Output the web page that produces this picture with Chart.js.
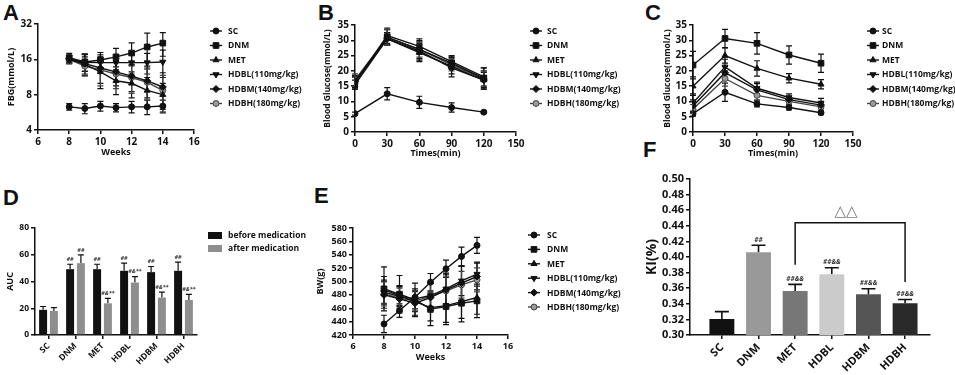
<!DOCTYPE html>
<html>
<head>
<meta charset="utf-8">
<script src="https://cdn.jsdelivr.net/npm/chart.js@4.4.1/dist/chart.umd.min.js"></script>
<style>
  body { margin: 0; background: #fff; width: 955px; height: 375px; position: relative; overflow: hidden; }
  canvas { position: absolute; }
  .tag { position: absolute; font: bold 22px/1 "Liberation Sans", Arial, sans-serif; color: #111; }
</style>
</head>
<body>
<div class="tag" style="left:3px;top:2px">A</div>
<div class="tag" style="left:318px;top:2px">B</div>
<div class="tag" style="left:645px;top:2px">C</div>
<div class="tag" style="left:3px;top:187px">D</div>
<div class="tag" style="left:314px;top:185px">E</div>
<div class="tag" style="left:643px;top:139px">F</div>

<canvas id="cA" width="320" height="175" style="left:0;top:0"></canvas>
<canvas id="cB" width="320" height="175" style="left:320px;top:0"></canvas>
<canvas id="cC" width="315" height="175" style="left:640px;top:0"></canvas>
<canvas id="cD" width="320" height="200" style="left:0;top:175px"></canvas>
<canvas id="cE" width="328" height="200" style="left:312px;top:175px"></canvas>
<canvas id="cF" width="315" height="230" style="left:640px;top:145px"></canvas>

<script>
const groups = ['SC', 'DNM', 'MET', 'HDBL(110mg/kg)', 'HDBM(140mg/kg)', 'HDBH(180mg/kg)'];
const barGroups = ['SC', 'DNM', 'MET', 'HDBL', 'HDBM', 'HDBH'];

// A: fasting blood glucose by week
const weeks = [8, 9, 10, 11, 12, 13, 14];
const fbgTicks = [4, 8, 16, 32];
const fbgMeans = [
  [6.3, 6.1, 6.4, 6.2, 6.3, 6.3, 6.4],
  [16.5, 15.2, 15.8, 16.8, 18.1, 20.4, 22],
  [16, 14.5, 12.5, 10.5, 10, 8.7, 8],
  [15.8, 15.1, 15, 15, 15, 15, 15.2],
  [16.2, 14.7, 13.5, 12.5, 11.5, 10.5, 9.3],
  [16, 14, 13, 12, 11.2, 10.2, 8.7]
];
const fbgErrors = [
  [0.4, 0.6, 0.6, 0.5, 0.7, 0.9, 0.8],
  [1.5, 2.5, 2.5, 3, 4, 6.4, 5],
  [1.2, 2.5, 3.5, 2.5, 2.5, 2.5, 2],
  [1.2, 2.5, 2.5, 2.5, 3, 3, 4],
  [1.2, 3, 3.5, 3, 3, 3, 3],
  [1.2, 2.5, 3.5, 3, 3, 3, 3]
];

// B and C: glucose tolerance, before and after medication
const minutes = [0, 30, 60, 90, 120];
const ogttBefore = [
  [6, 12.5, 9.7, 8, 6.5],
  [16.5, 31, 27, 22.5, 17.5],
  [15.5, 30.5, 26, 21.5, 17],
  [16, 31.5, 28, 23, 18],
  [16.5, 30.5, 26.5, 21, 17],
  [17, 31, 27, 22, 17.5]
];
const ogttBeforeErr = [
  [0.5, 2, 2, 1.5, 0.4],
  [2, 2.5, 3, 2, 3.5],
  [1.5, 2, 3, 3.5, 2.5],
  [2, 2.5, 2.5, 1.5, 3],
  [1.5, 2, 3, 2, 3],
  [2, 2.5, 2.5, 2, 2.5]
];
const ogttAfter = [
  [6, 13, 9.2, 8, 6.3],
  [21.9, 30.6, 29, 25.2, 22.5],
  [15, 25, 20.8, 17.6, 15.6],
  [9.5, 21.3, 14.3, 11.3, 9.5],
  [8.5, 19.4, 13.8, 10.6, 8.8],
  [7.5, 17.5, 12, 10, 8.2]
];
const ogttAfterErr = [
  [0.8, 3, 1, 0.8, 0.6],
  [4.5, 3, 3.5, 3, 3],
  [3, 2.5, 2.5, 1.5, 1.5],
  [3, 2.5, 2, 1.2, 1.5],
  [2, 2, 2, 1, 1],
  [1.5, 2.5, 1.5, 1, 1]
];

// D: AUC
const aucBefore = [18.8, 49.2, 49.2, 48, 47, 48];
const aucBeforeErr = [2.5, 3.7, 3.7, 5.7, 4.2, 6.5];
const aucAfter = [18, 53.7, 23.7, 39.2, 28, 26.2];
const aucAfterErr = [2.5, 6.2, 3.7, 4.5, 4, 4.2];
const aucBeforeMarks = ['', '##', '##', '##', '##', '##'];
const aucAfterMarks = ['', '##', '#&**', '#&**', '#&**', '#&**'];

// E: body weight
const bwMeans = [
  [436.5, 456.5, 476.5, 499, 519, 537.5, 554],
  [489, 481, 472.5, 459, 462.5, 467.5, 471],
  [487.5, 479, 470, 461, 464, 470, 476],
  [484, 477.5, 474, 479, 489, 501, 511],
  [480, 474, 467.5, 476, 487.5, 497.5, 507.5],
  [481.5, 475, 471, 477.5, 486, 495, 502.5]
];
const bwErrors = [
  [13, 10, 10, 13, 13, 14, 12],
  [33, 28, 25, 25, 27, 28, 25],
  [20, 15, 15, 20, 25, 25, 25],
  [18, 15, 15, 18, 22, 22, 18],
  [20, 18, 18, 22, 25, 25, 20],
  [18, 15, 15, 20, 22, 20, 18]
];

// F: KI
const kiValues = [0.3205, 0.406, 0.3564, 0.3778, 0.3522, 0.3406];
const kiErrors = [0.0095, 0.009, 0.0085, 0.0085, 0.007, 0.005];
const kiMarks = ['', '##', '##&&', '##&&', '##&&', '##&&'];
const kiTicks = [0.30, 0.32, 0.34, 0.36, 0.38, 0.40, 0.42, 0.44, 0.46, 0.48, 0.50];

const INK = '#111';
const FONT = '"Open Sans", "DejaVu Sans", sans-serif';
Chart.defaults.font.family = FONT;
Chart.defaults.font.weight = 'bold';
Chart.defaults.color = INK;
Chart.defaults.animation = false;
Chart.defaults.plugins.legend.display = false;
Chart.defaults.plugins.tooltip.enabled = false;

const markers = [
  { style: 'circle', r: 3, fill: INK, line: INK },
  { style: 'rect', r: 4, fill: INK, line: INK },
  { style: 'triangle', r: 3.5, fill: INK, line: INK },
  { style: 'triangle', r: 3.5, rot: 180, fill: INK, line: INK },
  { style: 'rectRot', r: 3.5, fill: INK, line: INK },
  { style: 'circle', r: 3, fill: '#9a9a9a', line: '#444' }
];

function lineSets(xs, means, errs) {
  return means.map((m, i) => ({
    label: groups[i],
    data: m.map((v, j) => ({ x: xs[j], y: v })),
    errors: errs[i],
    borderColor: markers[i].line,
    borderWidth: 1.4,
    pointStyle: markers[i].style,
    pointRotation: markers[i].rot || 0,
    pointRadius: markers[i].r,
    pointBackgroundColor: markers[i].fill,
    pointBorderColor: markers[i].line,
    pointBorderWidth: 1
  }));
}

function axis(o) {
  return {
    type: o.type || 'linear',
    min: o.min,
    max: o.max,
    offset: !!o.offset,
    border: { color: INK, width: 1.5 },
    grid: { drawOnChartArea: false, color: INK, lineWidth: 1.5, tickLength: 4, offset: false },
    ticks: {
      color: INK, font: { size: o.size, weight: 'bold' }, padding: 2,
      stepSize: o.step, autoSkip: false,
      maxRotation: o.rot || 0, minRotation: o.rot || 0,
      callback: o.label
    },
    title: o.title
      ? { display: true, text: o.title, color: INK, font: { size: o.titleSize || 9, weight: 'bold' },
          padding: { top: o.titlePad == null ? 4 : o.titlePad, bottom: o.titlePad == null ? 4 : o.titlePad } }
      : { display: false },
    afterBuildTicks: o.tickValues ? (s => { s.ticks = o.tickValues.map(v => ({ value: v })); }) : undefined,
    afterFit: s => { if (o.w) s.width = o.w; if (o.h) s.height = o.h; }
  };
}

// legend drawn at the side, one row per dataset
const sideLegend = {
  id: 'sideLegend',
  afterDraw(chart, args, o) {
    if (o.x == null) return;
    const ctx = chart.ctx;
    ctx.save();
    ctx.font = 'bold ' + o.size + 'px ' + FONT;
    ctx.textBaseline = 'middle';
    chart.data.datasets.forEach((ds, i) => {
      const y = o.y + i * o.dy;
      if (o.box) {
        ctx.fillStyle = ds.backgroundColor;
        ctx.fillRect(o.x, y - 3.5, 14, 7);
      } else {
        ctx.strokeStyle = ds.borderColor;
        ctx.lineWidth = 1.4;
        ctx.beginPath(); ctx.moveTo(o.x, y); ctx.lineTo(o.x + 12, y); ctx.stroke();
        ctx.fillStyle = ds.pointBackgroundColor;
        ctx.strokeStyle = ds.pointBorderColor;
        ctx.lineWidth = 1;
        Chart.helpers.drawPoint(ctx, { pointStyle: ds.pointStyle, radius: ds.pointRadius, rotation: ds.pointRotation, borderWidth: 1 }, o.x + 6, y);
      }
      ctx.fillStyle = INK;
      ctx.fillText(ds.label, o.x + o.gap, y + 0.5);
    });
    ctx.restore();
  }
};

// mean +/- error whiskers (bars: upper whisker only) and significance marks
const errorBars = {
  id: 'errorBars',
  beforeDatasetsDraw(chart, args, o) {
    const ctx = chart.ctx, ys = chart.scales.y;
    const isBar = chart.config.type === 'bar';
    ctx.save();
    chart.data.datasets.forEach((ds, di) => {
      if (!ds.errors) return;
      chart.getDatasetMeta(di).data.forEach((el, i) => {
        const raw = ds.data[i];
        const v = typeof raw === 'object' ? raw.y : raw;
        const e = ds.errors[i];
        const top = ys.getPixelForValue(v + e);
        const bot = isBar ? el.y : ys.getPixelForValue(v - e);
        ctx.strokeStyle = isBar ? INK : ds.borderColor;
        ctx.lineWidth = o.width || 1.2;
        ctx.beginPath();
        ctx.moveTo(el.x, top); ctx.lineTo(el.x, bot);
        ctx.moveTo(el.x - o.cap, top); ctx.lineTo(el.x + o.cap, top);
        if (!isBar) { ctx.moveTo(el.x - o.cap, bot); ctx.lineTo(el.x + o.cap, bot); }
        ctx.stroke();
        if (ds.marks && ds.marks[i]) {
          ctx.fillStyle = '#333';
          ctx.font = 'italic bold ' + o.markSize + 'px ' + FONT;
          ctx.textAlign = 'center';
          ctx.textBaseline = 'bottom';
          ctx.fillText(ds.marks[i], el.x, top - 2);
        }
      });
    });
    ctx.restore();
  }
};

// comparison bracket between two bars
const bracket = {
  id: 'bracket',
  afterDatasetsDraw(chart, args, o) {
    if (o.from == null) return;
    const ctx = chart.ctx, xs = chart.scales.x, ys = chart.scales.y;
    const x1 = xs.getPixelForValue(o.from), x2 = xs.getPixelForValue(o.to);
    const yt = ys.getPixelForValue(o.level);
    ctx.save();
    ctx.strokeStyle = INK;
    ctx.lineWidth = 1.5;
    ctx.beginPath();
    ctx.moveTo(x1, ys.getPixelForValue(o.leftEnd));
    ctx.lineTo(x1, yt); ctx.lineTo(x2, yt);
    ctx.lineTo(x2, ys.getPixelForValue(o.rightEnd));
    ctx.stroke();
    ctx.fillStyle = '#777';
    ctx.font = '15px "DejaVu Sans", sans-serif';
    ctx.textAlign = 'center';
    ctx.textBaseline = 'bottom';
    ctx.fillText(o.text, (x1 + x2) / 2 - 4, yt - 3);
    ctx.restore();
  }
};

Chart.register(sideLegend, errorBars, bracket);

// A
new Chart(document.getElementById('cA'), {
  type: 'line',
  data: { datasets: lineSets(weeks, fbgMeans, fbgErrors) },
  options: {
    responsive: false,
    layout: { padding: { left: 0, top: 24, right: 126, bottom: 13 } },
    scales: {
      x: axis({ min: 6, max: 16, step: 2, size: 10, h: 32, title: 'Weeks' }),
      y: axis({ type: 'logarithmic', min: 4, max: 32, tickValues: fbgTicks, label: v => String(v), size: 10, w: 38,
                title: 'FBG(mmol/L)', titlePad: 6 })
    },
    plugins: { sideLegend: { x: 210, y: 31, dy: 14.5, gap: 18, size: 8.5 }, errorBars: { cap: 3 } }
  }
});

// B
new Chart(document.getElementById('cB'), {
  type: 'line',
  data: { datasets: lineSets(minutes, ogttBefore, ogttBeforeErr) },
  options: {
    responsive: false,
    layout: { padding: { left: 0, top: 25, right: 124, bottom: 12 } },
    scales: {
      x: axis({ min: 0, max: 150, step: 30, size: 10, h: 31, title: 'Times(min)' }),
      y: axis({ min: 0, max: 35, step: 5, size: 10, w: 35, title: 'Blood Glucose(mmol/L)', titleSize: 8.5, titlePad: 2 })
    },
    plugins: { sideLegend: { x: 210, y: 31, dy: 14.5, gap: 17, size: 8.5 }, errorBars: { cap: 3 } }
  }
});

// C
new Chart(document.getElementById('cC'), {
  type: 'line',
  data: { datasets: lineSets(minutes, ogttAfter, ogttAfterErr) },
  options: {
    responsive: false,
    layout: { padding: { left: 0, top: 25, right: 102, bottom: 12 } },
    scales: {
      x: axis({ min: 0, max: 150, step: 30, size: 10, h: 31, title: 'Times(min)' }),
      y: axis({ min: 0, max: 35, step: 5, size: 10, w: 53, title: 'Blood Glucose(mmol/L)', titleSize: 8.5, titlePad: 22 })
    },
    plugins: { sideLegend: { x: 227, y: 31, dy: 14.5, gap: 15, size: 8.5 }, errorBars: { cap: 3 } }
  }
});

// D
new Chart(document.getElementById('cD'), {
  type: 'bar',
  data: {
    labels: barGroups,
    datasets: [
      { label: 'before medication', data: aucBefore, errors: aucBeforeErr, marks: aucBeforeMarks, backgroundColor: '#111' },
      { label: 'after medication', data: aucAfter, errors: aucAfterErr, marks: aucAfterMarks, backgroundColor: '#8e8e8e' }
    ]
  },
  options: {
    responsive: false,
    categoryPercentage: 0.8,
    barPercentage: 0.74,
    layout: { padding: { left: 0, top: 53, right: 123, bottom: 0 } },
    scales: {
      x: axis({ type: 'category', offset: true, label: v => barGroups[v], size: 8.5, h: 40, rot: 45 }),
      y: axis({ min: 0, max: 80, step: 20, size: 8.5, w: 35, title: 'AUC', titlePad: 5 })
    },
    plugins: { sideLegend: { box: true, x: 208, y: 60.5, dy: 13, gap: 20, size: 8.5 }, errorBars: { cap: 3, markSize: 5.5 } }
  }
});

// E
new Chart(document.getElementById('cE'), {
  type: 'line',
  data: { datasets: lineSets(weeks, bwMeans, bwErrors) },
  options: {
    responsive: false,
    layout: { padding: { left: 0, top: 53, right: 132, bottom: 8 } },
    scales: {
      x: axis({ min: 6, max: 16, step: 2, size: 9, h: 32, title: 'Weeks' }),
      y: axis({ min: 420, max: 580, step: 20, size: 9, w: 41, title: 'BW(g)', titlePad: 3 })
    },
    plugins: { sideLegend: { x: 216, y: 60, dy: 14.4, gap: 19, size: 8.5 }, errorBars: { cap: 3 } }
  }
});

// F
new Chart(document.getElementById('cF'), {
  type: 'bar',
  data: {
    datasets: [{
      label: 'KI',
      data: kiValues.map((v, i) => ({ x: i, y: v })),
      errors: kiErrors,
      marks: kiMarks,
      backgroundColor: ['#111', '#999', '#777', '#cbcbcb', '#555', '#2a2a2a']
    }]
  },
  options: {
    responsive: false,
    categoryPercentage: 1,
    barPercentage: 0.68,
    layout: { padding: { left: 0, top: 34, right: 25, bottom: 0 } },
    scales: {
      x: axis({ min: -0.87, max: 5.68, tickValues: barGroups.map((g, i) => i), label: v => barGroups[v], size: 11, h: 40, rot: 45 }),
      y: axis({ min: 0.30, max: 0.50, tickValues: kiTicks, label: v => v.toFixed(2), size: 11, w: 50, title: 'KI(%)', titleSize: 14, titlePad: 4 })
    },
    plugins: {
      errorBars: { cap: 7, width: 1.6, markSize: 6.5 },
      bracket: { from: 2, to: 5, level: 0.444, leftEnd: 0.39, rightEnd: 0.368, text: '\u25B3\u25B3' }
    }
  }
});
</script>
</body>
</html>
